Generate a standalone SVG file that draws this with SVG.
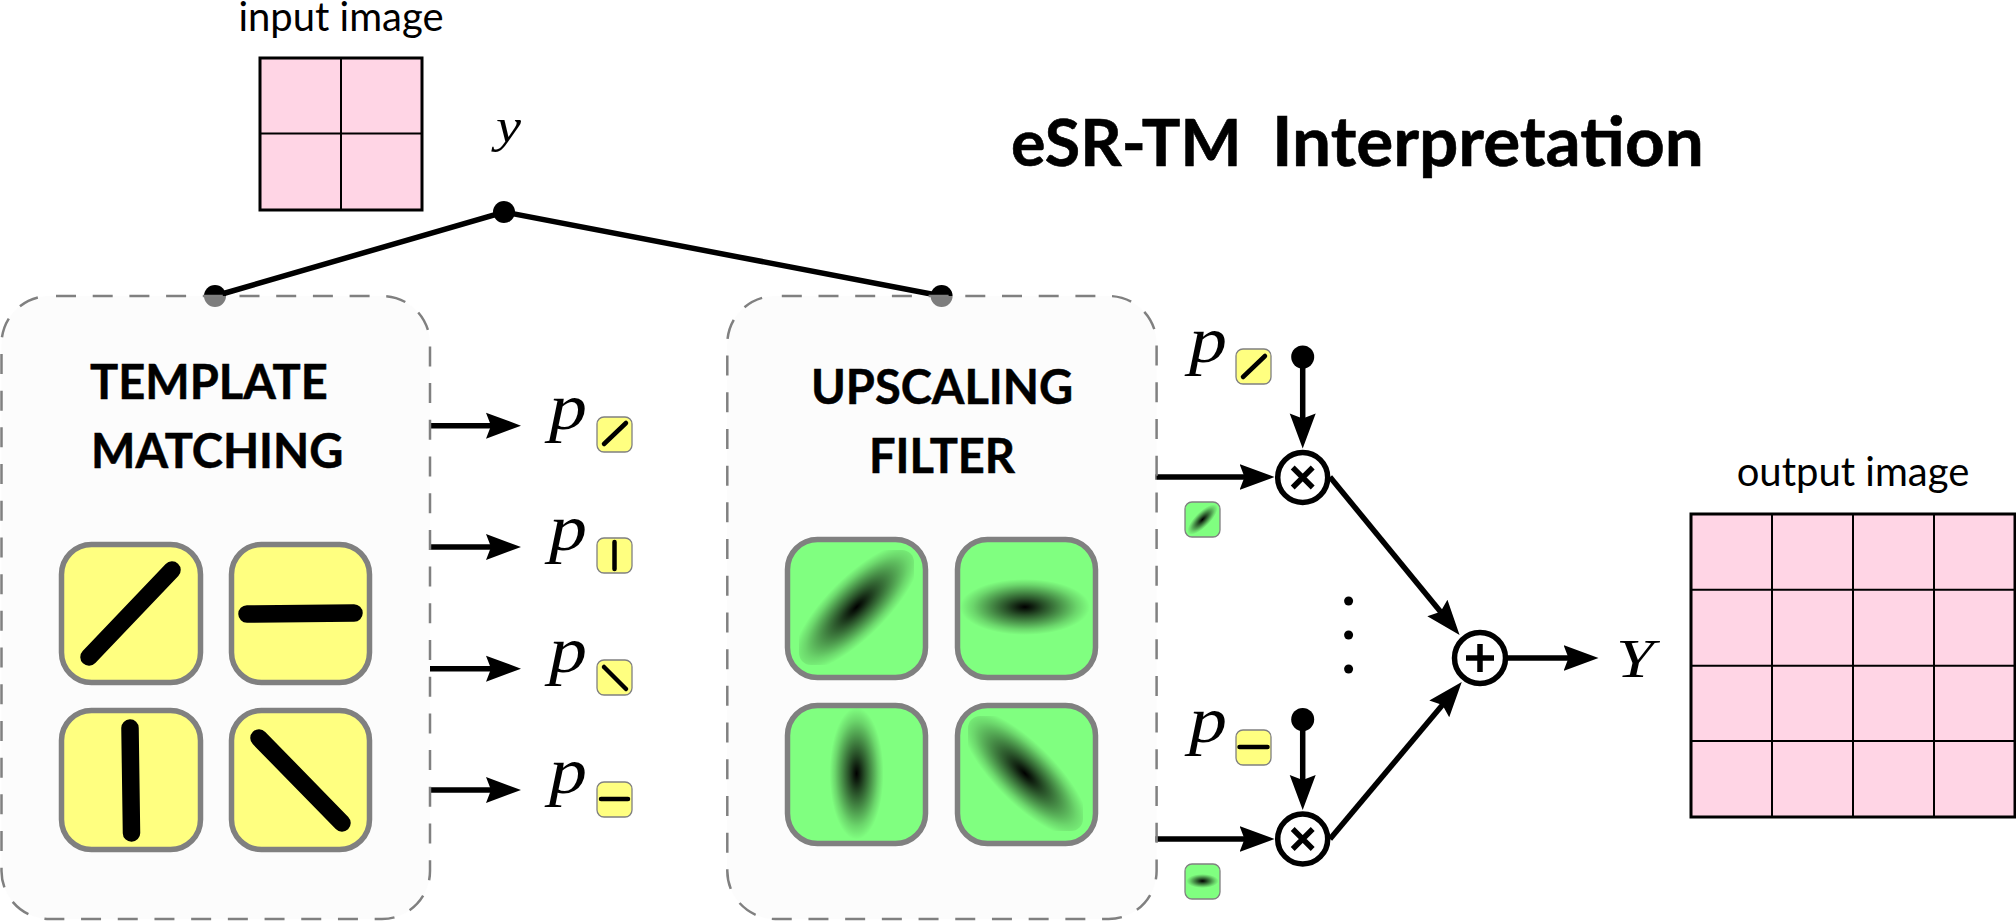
<svg xmlns="http://www.w3.org/2000/svg" width="2016" height="921" viewBox="0 0 2016 921">
<style>
text{font-family:"Lato","Carlito","Liberation Sans",sans-serif;fill:#000;white-space:pre}
.title{font-weight:700;stroke:#000;stroke-width:.6}
.head{font-size:47px;font-weight:700;stroke:#000;stroke-width:.5}
.cap{font-size:40px}
.m{font-family:"Liberation Serif","Times New Roman",serif;font-style:italic;stroke:none}
.p{font-size:66px}
.box{fill:#f9f9f9;fill-opacity:.5;stroke:#808080;stroke-width:2.5;stroke-dasharray:20 16.7;stroke-dashoffset:30.2}
.grid{fill:#ffd5e5;stroke:#000;stroke-width:3}
.gl{stroke:#000;stroke-width:2;fill:none}
.yt{fill:#ffff80;stroke:#808080;stroke-width:5.500}
.gt{fill:#80ff80;stroke:#808080;stroke-width:5.500}
.ys{fill:#ffff80;stroke:#808080;stroke-width:1.3}
.gs{fill:#80ff80;stroke:#808080;stroke-width:1.3}
.bl{stroke:#000;stroke-width:17.5;stroke-linecap:round;fill:none}
.sl{stroke:#000;stroke-width:4.5;stroke-linecap:round;fill:none}
.c{stroke:#000;stroke-width:5.5;fill:none}
.a{stroke:#000;stroke-width:5.5;fill:none;marker-end:url(#ah)}
.op{fill:#fff;stroke:#000;stroke-width:5.5}
.sym{stroke:#000;stroke-width:5.5;fill:none}
</style>
<defs>
<marker id="ah" markerUnits="userSpaceOnUse" markerWidth="40" markerHeight="32" refX="15" refY="16" orient="auto" viewBox="0 0 40 32">
<path d="M0,3 L35,16 L0,29 L5,16 Z" fill="#000"/>
</marker>
<radialGradient id="g">
<stop offset="0" stop-color="#000" stop-opacity="1"/>
<stop offset=".12" stop-color="#000" stop-opacity=".88"/>
<stop offset=".3" stop-color="#000" stop-opacity=".68"/>
<stop offset=".55" stop-color="#000" stop-opacity=".42"/>
<stop offset=".8" stop-color="#000" stop-opacity=".16"/>
<stop offset="1" stop-color="#000" stop-opacity="0"/>
</radialGradient>
<clipPath id="c1"><rect x="799" y="550" width="115" height="115" rx="12"/></clipPath>
<clipPath id="c4"><rect x="968" y="716" width="115" height="115" rx="12"/></clipPath>
</defs>

<g id="connectors">
<path class="c" d="M215,296 L504,212 L941.6,296"/>
<circle cx="504" cy="212" r="11"/>
<circle cx="215" cy="296" r="11"/>
<circle cx="941.6" cy="296" r="11"/>
<line class="a" x1="430" y1="425.7" x2="501" y2="425.7"/>
<line class="a" x1="430" y1="547" x2="501" y2="547"/>
<line class="a" x1="430" y1="668.7" x2="501" y2="668.7"/>
<line class="a" x1="430" y1="790" x2="501" y2="790"/>
<line class="a" x1="1155" y1="477" x2="1254.5" y2="477"/>
<line class="a" x1="1155" y1="839" x2="1254.5" y2="839"/>
<line class="a" x1="1302.7" y1="357" x2="1302.7" y2="428.4"/>
<line class="a" x1="1302.7" y1="719.5" x2="1302.7" y2="790"/>
<line class="a" x1="1330" y1="477" x2="1446.9" y2="619.5"/>
<line class="a" x1="1330" y1="839" x2="1448.9" y2="697.3"/>
<line class="a" x1="1505" y1="658" x2="1578.5" y2="658"/>
<circle cx="1302.7" cy="357" r="11.5"/>
<circle cx="1302.7" cy="719.5" r="11.5"/>
</g>

<g id="title"><text class="title" x="1011" y="166"><tspan font-size="64.500">eSR-TM  </tspan><tspan font-size="69.300" x="1272">Interpretation</tspan></text></g>

<g id="input-image">
<text class="cap" x="341" y="30.500" text-anchor="middle">input image</text>
<rect class="grid" x="260" y="58" width="162" height="152"/>
<path class="gl" d="M341,58V210M260,133.500H422"/>
</g>
<g id="label-y"><text class="m" x="496" y="142" font-size="48" textLength="25" lengthAdjust="spacingAndGlyphs">y</text></g>

<g id="template-matching">
<rect class="box" x="1.500" y="296" width="428.500" height="623" rx="48"/>
<text class="head" x="90" y="399">TEMPLATE</text>
<text class="head" x="91" y="468">MATCHING</text>
<rect class="yt" x="61.500" y="544.500" width="139" height="138" rx="30"/>
<rect class="yt" x="231.500" y="544.500" width="138" height="138" rx="30"/>
<rect class="yt" x="61.500" y="710.500" width="139" height="139" rx="30"/>
<rect class="yt" x="231.500" y="710.500" width="138" height="139" rx="30"/>
<line class="bl" x1="89" y1="657" x2="172" y2="570"/>
<line class="bl" x1="247" y1="614" x2="354" y2="613"/>
<line class="bl" x1="130" y1="728" x2="131.500" y2="833"/>
<line class="bl" x1="259" y1="738" x2="342" y2="823"/>
</g>

<g id="p-labels-left">
<text class="m p" x="549" y="429" textLength="38" lengthAdjust="spacingAndGlyphs">p</text>
<rect class="ys" x="597" y="417" width="35" height="35" rx="7"/>
<line class="sl" x1="604" y1="444" x2="626" y2="423"/>
<text class="m p" x="549" y="550" textLength="38" lengthAdjust="spacingAndGlyphs">p</text>
<rect class="ys" x="597" y="538" width="35" height="35" rx="7"/>
<line class="sl" x1="614.500" y1="542" x2="614.500" y2="569"/>
<text class="m p" x="549" y="672" textLength="38" lengthAdjust="spacingAndGlyphs">p</text>
<rect class="ys" x="597" y="660" width="35" height="35" rx="7"/>
<line class="sl" x1="604" y1="667" x2="626" y2="689"/>
<text class="m p" x="549" y="793" textLength="38" lengthAdjust="spacingAndGlyphs">p</text>
<rect class="ys" x="597" y="782" width="35" height="35" rx="7"/>
<line class="sl" x1="601" y1="799" x2="628" y2="799"/>
</g>

<g id="upscaling-filter">
<rect class="box" x="727.300" y="296" width="429.300" height="623" rx="48"/>
<text class="head" x="942" y="404" text-anchor="middle">UPSCALING</text>
<text class="head" x="942" y="473" text-anchor="middle">FILTER</text>
<rect class="gt" x="787.500" y="539.500" width="138" height="138" rx="30"/>
<rect class="gt" x="957.500" y="539.500" width="138" height="138" rx="30"/>
<rect class="gt" x="787.500" y="705.500" width="138" height="138" rx="30"/>
<rect class="gt" x="957.500" y="705.500" width="138" height="138" rx="30"/>
<g clip-path="url(#c1)"><ellipse cx="856.600" cy="607" rx="85" ry="30" fill="url(#g)" transform="rotate(-45 856.600 607)"/></g>
<ellipse cx="1025" cy="607" rx="65" ry="28" fill="url(#g)"/>
<ellipse cx="856.600" cy="773.500" rx="27" ry="66" fill="url(#g)"/>
<g clip-path="url(#c4)"><ellipse cx="1025" cy="773.500" rx="85" ry="30" fill="url(#g)" transform="rotate(45 1025 773.500)"/></g>
</g>

<g id="weights-right">
<text class="m p" x="1189" y="362" textLength="38" lengthAdjust="spacingAndGlyphs">p</text>
<rect class="ys" x="1236" y="349" width="35" height="35" rx="7"/>
<line class="sl" x1="1243" y1="377" x2="1265" y2="356"/>
<text class="m p" x="1189" y="742" textLength="38" lengthAdjust="spacingAndGlyphs">p</text>
<rect class="ys" x="1236" y="730" width="35" height="35" rx="7"/>
<line class="sl" x1="1239.500" y1="747" x2="1267.500" y2="747"/>
<rect class="gs" x="1185" y="502" width="35" height="35" rx="7"/>
<ellipse cx="1202.500" cy="519.500" rx="20" ry="7.500" fill="url(#g)" transform="rotate(-45 1202.500 519.500)"/>
<rect class="gs" x="1185" y="864" width="35" height="35" rx="7"/>
<ellipse cx="1202.500" cy="881" rx="16" ry="7" fill="url(#g)"/>
</g>

<g id="multiply-top">
<circle class="op" cx="1302.700" cy="477.500" r="25"/>
<path class="sym" d="M1292.700,467.500L1312.700,487.500M1312.700,467.500L1292.700,487.500"/>
</g>
<g id="multiply-bottom">
<circle class="op" cx="1302.700" cy="839" r="25"/>
<path class="sym" d="M1292.700,829L1312.700,849M1312.700,829L1292.700,849"/>
</g>
<g id="ellipsis">
<circle cx="1348.600" cy="601" r="4.500"/>
<circle cx="1348.600" cy="635" r="4.500"/>
<circle cx="1348.600" cy="669" r="4.500"/>
</g>
<g id="sum">
<circle class="op" cx="1480" cy="658" r="25.500"/>
<path class="sym" d="M1466,658H1494M1480,644V672"/>
</g>
<g id="label-Y"><text class="m" x="1616" y="677" font-size="54" textLength="38" lengthAdjust="spacingAndGlyphs">Y</text></g>

<g id="output-image">
<text class="cap" x="1853" y="486" text-anchor="middle">output image</text>
<rect class="grid" x="1691" y="514" width="324" height="303"/>
<path class="gl" d="M1772,514V817M1853,514V817M1934,514V817M1691,589.700H2015M1691,665.700H2015M1691,741H2015"/>
</g>
</svg>
